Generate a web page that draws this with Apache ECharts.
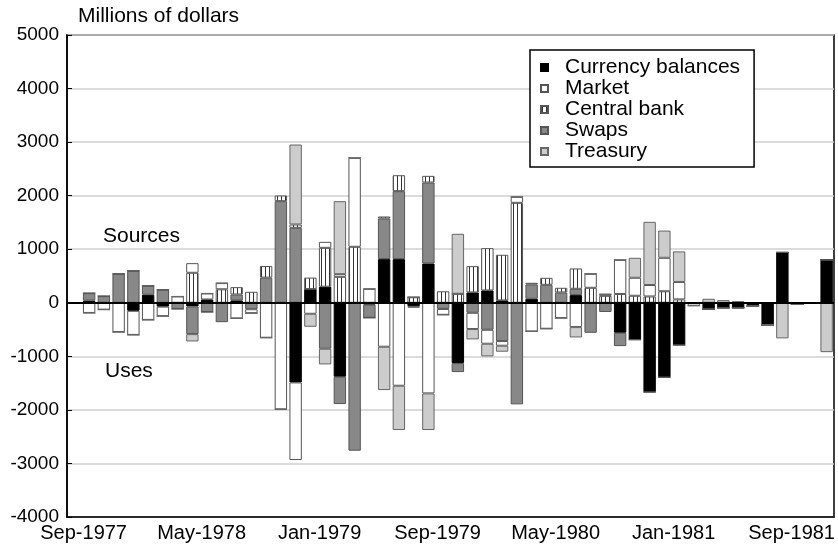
<!DOCTYPE html>
<html lang="en">
  <head>
    <meta charset="UTF-8" />
    <title>Intervention financing</title>
    <script src="https://cdn.jsdelivr.net/npm/echarts@6/dist/echarts.min.js"></script>
    <style>
      html, body { margin: 0; padding: 0; background: #fff; }
    </style>
  </head>

  <body>
    <div id="main" style="width: 838px; height: 547px"></div>
    <script type="text/javascript">
      // months, Aug-1977 .. Nov-1981
      const months = [
        "Aug-1977", "Sep-1977", "Oct-1977", "Nov-1977", "Dec-1977",
        "Jan-1978", "Feb-1978", "Mar-1978", "Apr-1978", "May-1978", "Jun-1978", "Jul-1978", "Aug-1978", "Sep-1978", "Oct-1978", "Nov-1978", "Dec-1978",
        "Jan-1979", "Feb-1979", "Mar-1979", "Apr-1979", "May-1979", "Jun-1979", "Jul-1979", "Aug-1979", "Sep-1979", "Oct-1979", "Nov-1979", "Dec-1979",
        "Jan-1980", "Feb-1980", "Mar-1980", "Apr-1980", "May-1980", "Jun-1980", "Jul-1980", "Aug-1980", "Sep-1980", "Oct-1980", "Nov-1980", "Dec-1980",
        "Jan-1981", "Feb-1981", "Mar-1981", "Apr-1981", "May-1981", "Jun-1981", "Jul-1981", "Aug-1981", "Sep-1981", "Oct-1981", "Nov-1981",
      ];

      // millions of dollars, + = sources, - = uses
      const currency = [
        0, 40, 0, 0, -150, 150, -72, 0, -69, 62, 0, 44, 0,
        0, 0, -1487, 255, 300, -1381, 0, -35, 815, 815, -64, 734, 0,
        -1126, 193, 230, 44, 0, 75, 0, 0, 143, 0, 0, -560, -690,
        -1668, -1392, -790, 0, -120, -94, -94, -63, -414, 940, -31, 0, 803,
      ];
      const swaps = [
        0, 140, 125, 541, 597, 167, 243, -115, -516, -172, -362, 111, -120,
        470, 1897, 1400, 0, -858, -510, -2762, -245, 759, 1269, -28, 1511, -115,
        -168, -187, -504, -715, -1897, 267, 336, 193, 118, -560, -172, -249, 0,
        0, 0, 0, 0, 0, 0, 0, 0, 0, 0, 0, 0, 0,
      ];
      const centralBank = [
        0, 0, 0, 0, 0, 0, 0, 0, 560, 0, 252, 137, 205,
        217, 106, 62, 215, 726, 485, 1045, 0, 37, 298, 103, 125, 215,
        168, 491, 790, 852, 1866, 31, 130, 87, 380, 280, 130, 165, 131,
        118, 215, 63, 0, 0, 0, 0, 0, 0, 0, 0, 0, 0,
      ];
      const market = [
        0, -190, -128, -547, -450, -320, -178, 118, 180, 112, 115, -292, -75,
        -653, -1990, -1449, -205, 112, 50, 1661, 260, -821, -1549, 0, -1692, -110,
        0, -304, -261, -87, 112, -535, -485, -286, -454, 261, 30, 637, 336,
        214, 625, 326, -55, 0, 0, 0, 0, 0, 0, 0, 0, 0,
      ];
      const treasury = [
        0, 0, 0, 0, 0, 0, 0, 0, -137, 0, 0, 0, 0,
        0, 0, 1493, -243, -293, 1362, 0, 0, -809, -827, 0, -684, 0,
        1120, -193, -236, -112, 0, 0, 0, 0, -193, 0, 0, 0, 373,
        1179, 508, 570, 0, 75, 50, 31, 0, 0, -665, 0, 0, -922,
      ];

      const FONT = "Liberation Sans";

      function stripes() {
        var c = document.createElement("canvas");
        c.width = 4;
        c.height = 4;
        var g = c.getContext("2d");
        g.fillStyle = "#fff";
        g.fillRect(0, 0, 4, 4);
        g.fillStyle = "#333";
        g.fillRect(1, 0, 1, 4);
        return c;
      }

      function barSeries(name, data, fill, border) {
        return {
          name: name,
          type: "bar",
          stack: "total",
          data: data,
          barCategoryGap: "16%",
          itemStyle: { color: fill, borderColor: border, borderWidth: 1 },
          emphasis: { disabled: true },
        };
      }

      var myChart = echarts.init(document.getElementById("main"));

      const first = barSeries("Currency balances", currency, "#000", "#000");
      // heavy zero line
      first.markLine = {
        silent: true,
        symbol: "none",
        label: { show: false },
        lineStyle: { color: "#000", width: 2, type: "solid" },
        data: [{ yAxis: 0 }],
      };

      const option = {
        animation: false,
        textStyle: { fontFamily: FONT, color: "#000" },
        grid: {
          left: 67,
          right: 4,
          top: 35,
          bottom: 30,
          show: true,
          borderColor: "#000",
          borderWidth: 1.5,
        },
        legend: {
          orient: "vertical",
          left: 530,
          top: 50,
          padding: [7, 14, 5, 10],
          itemGap: 0,
          itemWidth: 7,
          itemHeight: 7,
          icon: "rect",
          borderColor: "#000",
          borderWidth: 1.5,
          backgroundColor: "#fff",
          textStyle: {
            fontFamily: FONT,
            fontSize: 21,
            color: "#000",
            lineHeight: 20.5,
            padding: [0, 0, 0, 12],
          },
          data: ["Currency balances", "Market", "Central bank", "Swaps", "Treasury"],
        },
        xAxis: {
          type: "category",
          data: months,
          axisLine: { onZero: false, lineStyle: { color: "#000", width: 1.5 } },
          axisTick: {
            inside: true,
            length: 5,
            lineStyle: { color: "#000", width: 1.5 },
            interval: function (i) {
              return i % 8 === 0;
            },
          },
          axisLabel: {
            fontFamily: FONT,
            fontSize: 20,
            color: "#000",
            margin: 6,
            padding: [0, 11, 0, 0],
            interval: function (i) {
              return i % 8 === 1;
            },
          },
          splitLine: { show: false },
        },
        yAxis: {
          type: "value",
          min: -4000,
          max: 5000,
          interval: 1000,
          axisLine: { show: true, lineStyle: { color: "#000", width: 1.5 } },
          axisTick: { show: true, inside: true, length: 5, lineStyle: { color: "#000" } },
          axisLabel: {
            fontFamily: FONT,
            fontSize: 19,
            color: "#000",
            margin: 8,
            formatter: function (v) {
              return String(v);
            },
          },
          splitLine: { lineStyle: { color: "#cfcfcf", width: 1.5 } },
        },
        graphic: [
          { type: "text", left: 78, top: 6, style: { text: "Millions of dollars", font: "21px " + FONT, fill: "#000" } },
          { type: "text", left: 103, top: 226, style: { text: "Sources", font: "21px " + FONT, fill: "#000" } },
          { type: "text", left: 105, top: 361, style: { text: "Uses", font: "21px " + FONT, fill: "#000" } },
        ],
        series: [
          first,
          barSeries("Swaps", swaps, "#888", "#555"),
          barSeries("Central bank", centralBank, { image: stripes(), repeat: "repeat" }, "#555"),
          barSeries("Market", market, "#fff", "#555"),
          barSeries("Treasury", treasury, "#ccc", "#666"),
        ],
      };

      myChart.setOption(option);
    </script>
  </body>
</html>
